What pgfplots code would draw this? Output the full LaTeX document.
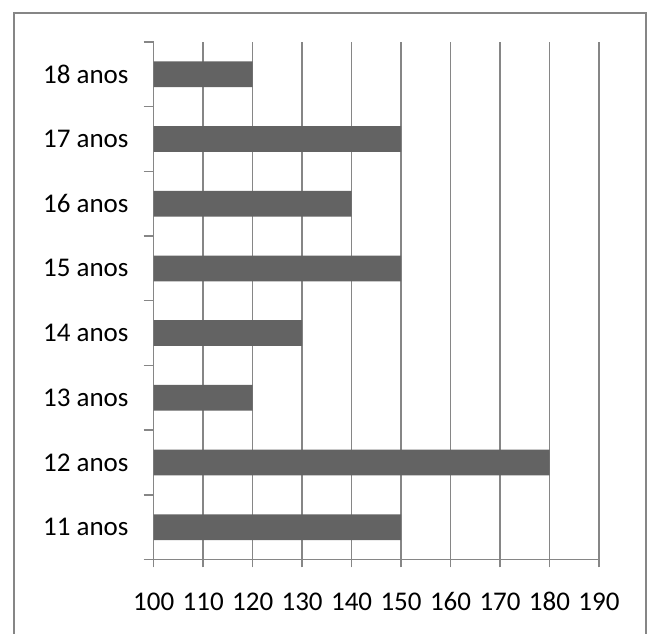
\documentclass[border=0pt]{standalone}
\usepackage{fontspec}
\setmainfont{Carlito}
\usepackage{pgfplots}
\pgfplotsset{compat=1.18}
\definecolor{barfill}{RGB}{99,99,99}
\definecolor{rulegray}{RGB}{134,134,134}

\begin{document}
\begin{tikzpicture}
\useasboundingbox (0pt,0pt) rectangle (651pt,634pt);
% moldura exterior
\draw[rulegray, line width=2pt] (14pt,-10pt) -- (14pt,621pt) -- (646pt,621pt) -- (646pt,-10pt);
\begin{axis}[
    at={(153.7pt,74.5pt)}, anchor=south west,
    scale only axis,
    width=445.3pt, height=517.5pt,
    xbar, bar width=25.7pt,
    xmin=100, xmax=190,
    ymin=-0.5, ymax=7.5,
    xtick={100,110,...,190},
    ytick={0,...,7},
    yticklabels={11 anos,12 anos,13 anos,14 anos,15 anos,16 anos,17 anos,18 anos},
    minor ytick={-0.5,0.5,...,7.5},
    axis x line*=bottom, axis y line*=left,
    axis line style={rulegray, line width=1.5pt, -},
    tick align=outside,
    major tick length=8pt, minor tick length=10pt,
    every tick/.style={rulegray, line width=1.5pt},
    every major y tick/.style={draw=none},
    xmajorgrids,
    major x grid style={rulegray, line width=1.5pt},
    ticklabel style={font=\fontsize{27}{31}\selectfont, text=black},
    /pgf/number format/assume math mode=true,
    yticklabel style={anchor=east, inner sep=0pt, xshift=-17pt},
    xticklabel style={anchor=base, inner sep=0pt, yshift=-43.5pt},
]
\addplot[fill=barfill, draw=none] coordinates {
    (150,0) (180,1) (120,2) (130,3) (150,4) (140,5) (150,6) (120,7)};
\end{axis}
\end{tikzpicture}
\end{document}
